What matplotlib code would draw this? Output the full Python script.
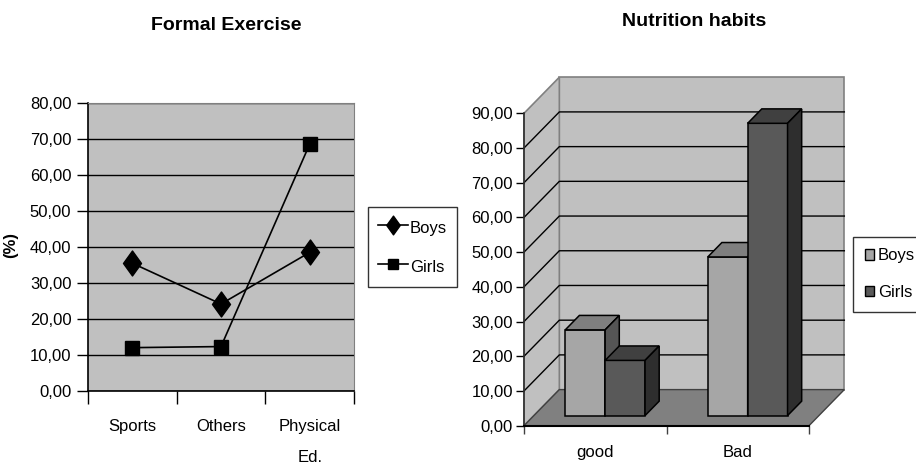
import matplotlib
matplotlib.use("Agg")
import matplotlib.pyplot as plt
from matplotlib.patches import Polygon, Patch
from matplotlib.path import Path

plt.rcParams['font.family'] = ['Liberation Sans', 'DejaVu Sans']

# ---- data -------------------------------------------------------------
exercise_categories = ["Sports", "Others", "Physical\nEd."]
exercise_boys = [35.5, 24.2, 38.5]
exercise_girls = [12.1, 12.4, 68.5]
exercise_yticks = [0, 10, 20, 30, 40, 50, 60, 70, 80]

nutrition_categories = ["good", "Bad"]
nutrition_boys = [24.7, 45.7]
nutrition_girls = [15.9, 84.2]
nutrition_yticks = [0, 10, 20, 30, 40, 50, 60, 70, 80, 90]

series_names = ["Boys", "Girls"]


def fmt(v):
    return f"{v:.2f}".replace(".", ",")


W, H = 916, 466
fig = plt.figure(figsize=(W / 100, H / 100), dpi=100)
FS = 12
TFS = 14

# ---- left: line chart -------------------------------------------------
ax1 = fig.add_axes([88 / W, (H - 391.3) / H, (354 - 88) / W, (391.3 - 102.7) / H])
ax1.set_facecolor("#c0c0c0")
ax1.set_xlim(0.5, 3.5)
ax1.set_ylim(0, 80)
xs = [1, 2, 3]
diamond = Path([(0, 1), (0.72, 0), (0, -1), (-0.72, 0), (0, 1)],
               [Path.MOVETO, Path.LINETO, Path.LINETO, Path.LINETO, Path.CLOSEPOLY])
ax1.plot(xs, exercise_boys, color="black", lw=1.2, marker=diamond, ms=18,
         mfc="black", mec="black", label=series_names[0], zorder=3)
ax1.plot(xs, exercise_girls, color="black", lw=1.2, marker="s", ms=10,
         mfc="black", mec="black", label=series_names[1], zorder=3)
ax1.set_yticks(exercise_yticks)
ax1.set_yticklabels([fmt(v) for v in exercise_yticks], fontsize=FS)
ax1.yaxis.grid(True, color="black", lw=1)
ax1.set_axisbelow(True)
ax1.set_xticks([0.5, 1.5, 2.5, 3.5])
ax1.set_xticklabels([])
ax1.set_xticks(xs, minor=True)
ax1.set_xticklabels(exercise_categories, minor=True, fontsize=FS, va="top",
                    linespacing=2.3)
ax1.tick_params(axis="x", which="major", length=9, width=1, direction="out")
ax1.tick_params(axis="x", which="minor", length=0, pad=20)
ax1.tick_params(axis="y", length=8, width=1, direction="out", pad=4)
for s in ("top", "right"):
    ax1.spines[s].set_color("#808080")
for s in ("left", "bottom"):
    ax1.spines[s].set_color("black")
    ax1.spines[s].set_linewidth(1.2)
ax1.set_ylabel("(%)", fontsize=FS, fontweight="bold")
ax1.yaxis.set_label_coords((18 - 88) / (354 - 88), (391.3 - 245) / (391.3 - 102.7))
fig.text(226 / W, 1 - 26 / H, "Formal Exercise", ha="center", va="center",
         fontsize=TFS, fontweight="bold")
leg1 = ax1.legend(loc="upper left", bbox_to_anchor=(368 / W, 1 - 207 / H),
                  bbox_transform=fig.transFigure, borderaxespad=0, fontsize=FS,
                  frameon=True, fancybox=False, edgecolor="black",
                  handlelength=1.75, handleheight=1.5, handletextpad=0.15,
                  labelspacing=1.1, borderpad=0.62, markerscale=0.75)
leg1.get_frame().set_linewidth(1)

# ---- right: 3-D style column chart -----------------------------------
ax2 = fig.add_axes([524 / W, (H - 425.7) / H, 285 / W, (425.7 - 113.3) / H])
ax2.set_xlim(0, 2)
ax2.set_ylim(0, 90)
ax2.set_facecolor("none")
DX, DY = 0.248, 10.4      # depth vector of the box (data units)
BAR_T0, BAR_T1 = 0.28, 0.68
BAR_W = 0.28
VMAX = 90


def proj(x, v, t):
    return (x + t * DX, v + t * DY)


def poly(pts, fc, ec, lw=1.0, z=1):
    ax2.add_patch(Polygon(pts, closed=True, facecolor=fc, edgecolor=ec,
                          lw=lw, clip_on=False, zorder=z, joinstyle="miter"))


n = len(nutrition_categories)
# walls and floor
poly([proj(0, 0, 1), proj(n, 0, 1), proj(n, VMAX, 1), proj(0, VMAX, 1)],
     "#c0c0c0", "#808080", 1.2, 1)
poly([proj(0, 0, 0), proj(0, 0, 1), proj(0, VMAX, 1), proj(0, VMAX, 0)],
     "#c0c0c0", "#808080", 1.2, 1)
poly([proj(0, 0, 0), proj(n, 0, 0), proj(n, 0, 1), proj(0, 0, 1)],
     "#808080", "#404040", 1.0, 2)
for v in nutrition_yticks[1:-1]:
    a, b, c = proj(0, v, 0), proj(0, v, 1), proj(n, v, 1)
    ax2.plot([a[0], b[0], c[0]], [a[1], b[1], c[1]], color="black", lw=1,
             clip_on=False, zorder=1.5)

# columns
face_cols = {"Boys": ("#a6a6a6", "#7f7f7f", "#555555"),
             "Girls": ("#595959", "#404040", "#2e2e2e")}
z = 3
for i in range(n):
    for j, (name, vals) in enumerate(zip(series_names, [nutrition_boys, nutrition_girls])):
        v = vals[i]
        x0 = i + 0.5 - BAR_W + j * BAR_W
        x1 = x0 + BAR_W
        front, top, side = face_cols[name]
        poly([proj(x0, 0, BAR_T0), proj(x1, 0, BAR_T0), proj(x1, v, BAR_T0),
              proj(x0, v, BAR_T0)], front, "black", 1.1, z)
        poly([proj(x0, v, BAR_T0), proj(x1, v, BAR_T0), proj(x1, v, BAR_T1),
              proj(x0, v, BAR_T1)], top, "black", 1.1, z)
        poly([proj(x1, 0, BAR_T0), proj(x1, 0, BAR_T1), proj(x1, v, BAR_T1),
              proj(x1, v, BAR_T0)], side, "black", 1.1, z)
        z += 1

ax2.set_yticks(nutrition_yticks)
ax2.set_yticklabels([fmt(v) for v in nutrition_yticks], fontsize=FS)
ax2.tick_params(axis="y", length=6, width=1, direction="out", pad=2)
ax2.set_xticks([0, 1, 2])
ax2.set_xticklabels([])
ax2.set_xticks([0.5, 1.5], minor=True)
ax2.set_xticklabels(nutrition_categories, minor=True, fontsize=FS)
ax2.tick_params(axis="x", which="major", length=6, width=1, direction="out",
                color="#404040")
ax2.tick_params(axis="x", which="minor", length=0, pad=14)
for s in ("top", "right"):
    ax2.spines[s].set_visible(False)
ax2.spines["left"].set_color("#303030")
ax2.spines["left"].set_linewidth(1.2)
ax2.spines["bottom"].set_color("black")
ax2.spines["bottom"].set_linewidth(1.5)
for sp in ax2.spines.values():
    sp.set_zorder(2.5)
fig.text(694 / W, 1 - 22 / H, "Nutrition habits", ha="center", va="center",
         fontsize=TFS, fontweight="bold")
handles = [Patch(facecolor=face_cols[nm][0], edgecolor="black", lw=1, label=nm)
           for nm in series_names]
leg2 = ax2.legend(handles=handles, loc="upper left",
                  bbox_to_anchor=(853 / W, 1 - 236.7 / H),
                  bbox_transform=fig.transFigure, borderaxespad=0, fontsize=FS,
                  frameon=True, fancybox=False, edgecolor="black",
                  handlelength=0.55, handleheight=0.6, handletextpad=0.25,
                  labelspacing=1.3, borderpad=0.7)
leg2.get_frame().set_linewidth(1)

fig.savefig("out.png", dpi=100)
